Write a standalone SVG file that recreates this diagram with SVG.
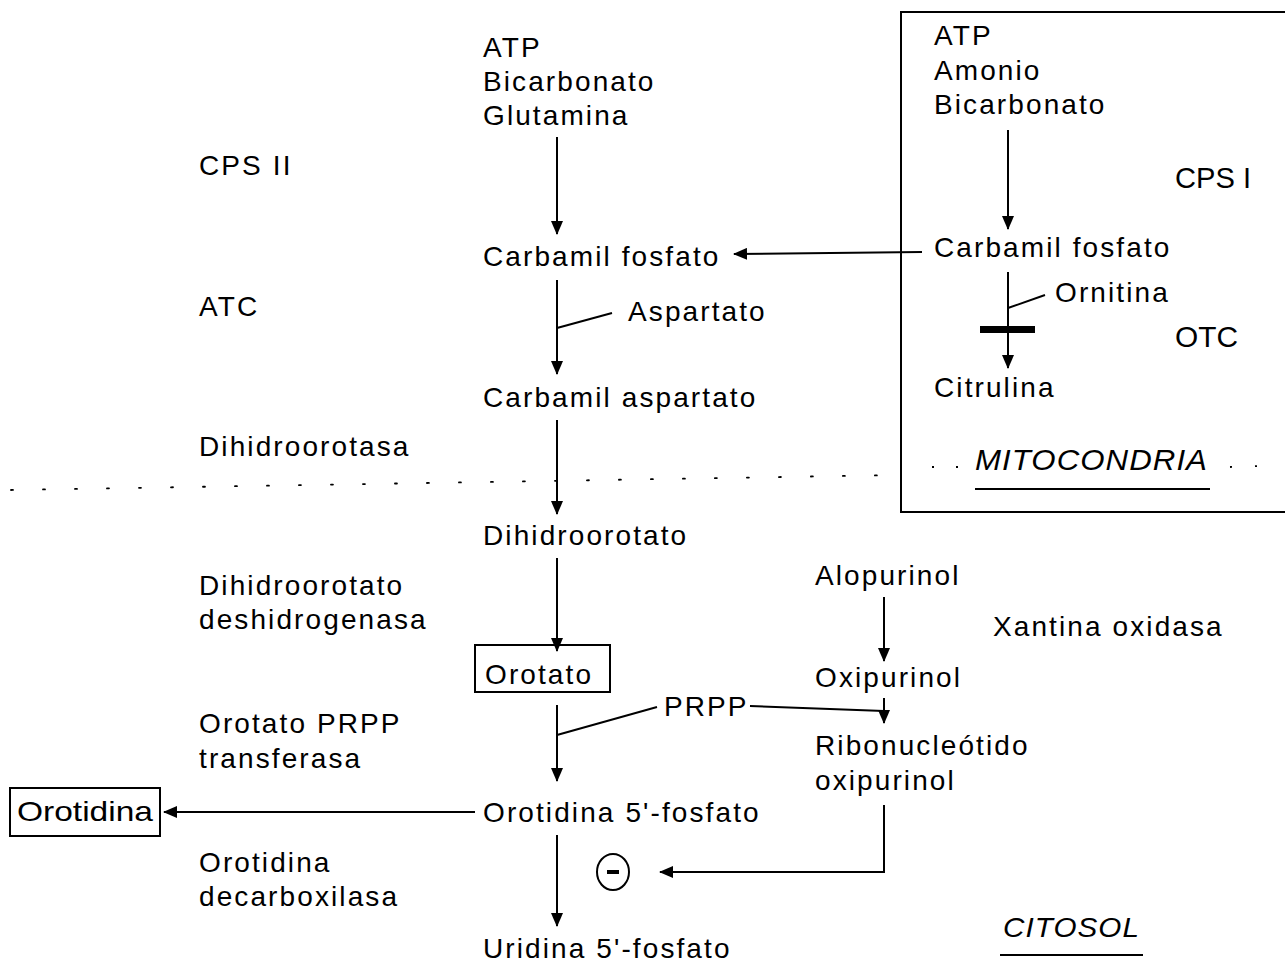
<svg xmlns="http://www.w3.org/2000/svg" width="1285" height="967" viewBox="0 0 1285 967">
<defs>
<marker id="ah" viewBox="0 0 14 12" refX="13" refY="6" markerWidth="14" markerHeight="12" markerUnits="userSpaceOnUse" orient="auto">
<path d="M0,0 L14,6 L0,12 Z" fill="#000"/>
</marker>
<style>
text{font-family:"Liberation Sans",Arial,sans-serif;font-size:28px;fill:#000;letter-spacing:2.1px}
.c{letter-spacing:0}
.it{font-style:italic;letter-spacing:1px}
line,polyline,path.l{stroke:#000;stroke-width:2;fill:none}
.arr{marker-end:url(#ah)}
rect.box{fill:none;stroke:#000;stroke-width:2}
</style>
</defs>
<rect width="1285" height="967" fill="#fff"/>

<g id="mito-box">
<rect class="box" x="901" y="12" width="395" height="500"/>
</g>
<g id="separator">
<line x1="11" y1="490" x2="900" y2="475" style="stroke-width:1.8;stroke-dasharray:2 30;stroke-linecap:round"/>
<line x1="932" y1="467" x2="960" y2="467" style="stroke-width:1.8;stroke-dasharray:2 22"/>
<line x1="1230" y1="467" x2="1258" y2="466" style="stroke-width:1.8;stroke-dasharray:2 23"/>
</g>

<g id="enzymes">
<text x="199" y="175">CPS II</text>
<text x="199" y="316">ATC</text>
<text x="199" y="456">Dihidroorotasa</text>
<text x="199" y="595">Dihidroorotato</text>
<text x="199" y="629">deshidrogenasa</text>
<text x="199" y="733">Orotato PRPP</text>
<text x="199" y="768">transferasa</text>
<text x="199" y="872">Orotidina</text>
<text x="199" y="906">decarboxilasa</text>
<text x="993" y="636">Xantina oxidasa</text>
<text class="c" x="1175" y="188" style="font-size:30px" textLength="76" lengthAdjust="spacingAndGlyphs">CPS I</text>
<text class="c" x="1175" y="347" style="font-size:30px" textLength="63" lengthAdjust="spacingAndGlyphs">OTC</text>
</g>

<g id="n-substrates">
<text x="483" y="57">ATP</text>
<text x="483" y="91">Bicarbonato</text>
<text x="483" y="125">Glutamina</text>
</g>
<g id="n-carbamilfosfato"><text x="483" y="266">Carbamil fosfato</text></g>
<g id="n-aspartato"><text x="628" y="321">Aspartato</text></g>
<g id="n-carbamilaspartato"><text x="483" y="407">Carbamil aspartato</text></g>
<g id="n-dihidroorotato"><text x="483" y="545">Dihidroorotato</text></g>
<g id="n-orotato">
<rect class="box" x="475" y="645" width="135" height="47"/>
<text x="485" y="684">Orotato</text>
</g>
<g id="n-prpp"><text x="664" y="716">PRPP</text></g>
<g id="n-omp"><text x="483" y="822">Orotidina 5'-fosfato</text></g>
<g id="n-orotidina">
<rect class="box" x="10" y="788" width="150" height="48"/>
<text x="17" y="821" class="c" textLength="136" lengthAdjust="spacingAndGlyphs">Orotidina</text>
</g>
<g id="n-ump"><text x="483" y="958">Uridina 5'-fosfato</text></g>

<g id="n-alopurinol"><text x="815" y="585">Alopurinol</text></g>
<g id="n-oxipurinol"><text x="815" y="687">Oxipurinol</text></g>
<g id="n-ribonucleotido">
<text x="815" y="755">Ribonucleótido</text>
<text x="815" y="790">oxipurinol</text>
</g>
<g id="n-inhibicion">
<ellipse cx="613" cy="872" rx="16" ry="18" fill="none" stroke="#000" stroke-width="2"/>
<line x1="607" y1="872" x2="619" y2="872" style="stroke-width:4"/>
</g>

<g id="n-mito-substrates">
<text x="934" y="45">ATP</text>
<text x="934" y="80">Amonio</text>
<text x="934" y="114">Bicarbonato</text>
</g>
<g id="n-mito-carbamil"><text x="934" y="257">Carbamil fosfato</text></g>
<g id="n-ornitina"><text x="1055" y="302">Ornitina</text></g>
<g id="n-citrulina"><text x="934" y="397">Citrulina</text></g>
<g id="n-mitocondria">
<text class="it" x="975" y="470" style="font-size:30px" textLength="233" lengthAdjust="spacingAndGlyphs">MITOCONDRIA</text>
<line x1="975" y1="489" x2="1210" y2="489"/>
</g>
<g id="n-citosol">
<text class="it" x="1003" y="937" textLength="137" lengthAdjust="spacingAndGlyphs">CITOSOL</text>
<line x1="1000" y1="955" x2="1143" y2="955"/>
</g>

<g id="connectors">
<line class="arr" x1="557" y1="137" x2="557" y2="234"/>
<line class="arr" x1="557" y1="280" x2="557" y2="374"/>
<line x1="557" y1="328" x2="612" y2="313"/>
<line class="arr" x1="557" y1="420" x2="557" y2="514"/>
<line class="arr" x1="557" y1="558" x2="557" y2="651"/>
<line class="arr" x1="557" y1="705" x2="557" y2="781"/>
<line x1="557" y1="735" x2="657" y2="707"/>
<line class="arr" x1="557" y1="835" x2="557" y2="926"/>
<line class="arr" x1="475" y1="812" x2="164" y2="812"/>
<line class="arr" x1="922" y1="252" x2="734" y2="254"/>
<line class="arr" x1="1008" y1="130" x2="1008" y2="229"/>
<line class="arr" x1="1008" y1="272" x2="1008" y2="368"/>
<line x1="1008" y1="308" x2="1045" y2="295"/>
<rect x="980" y="326" width="55" height="7" fill="#000"/>
<line class="arr" x1="884" y1="597" x2="884" y2="661"/>
<line class="arr" x1="884" y1="698" x2="884" y2="723"/>
<line x1="750" y1="706" x2="884" y2="711"/>
<polyline class="arr" points="884,805 884,872 660,872"/>
</g>
</svg>
